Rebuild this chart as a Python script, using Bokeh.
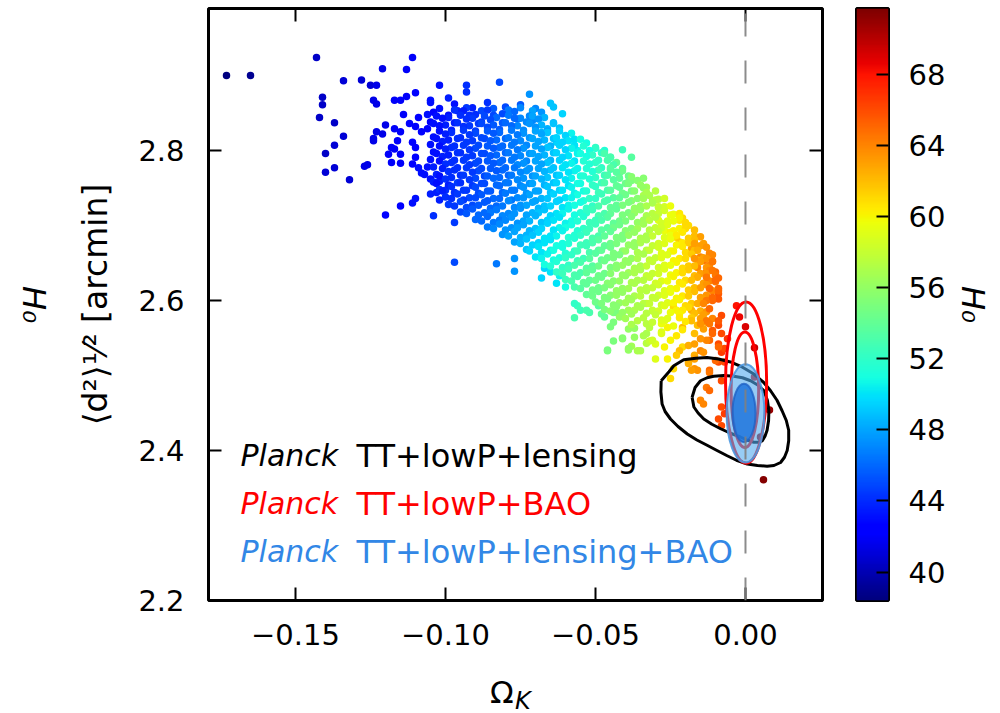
import numpy as np
from bokeh.plotting import figure
from bokeh.models import (ColumnDataSource, LinearColorMapper, Label, LinearAxis,
                          FixedTicker, Range1d, Span, CustomJSTickFormatter, Div)
from bokeh.transform import transform
from bokeh.layouts import row, column
from bokeh.embed import file_html
from bokeh.resources import INLINE

# ---------------- values ----------------
xticks = [-0.15, -0.10, -0.05, 0.00]
yticks = [2.2, 2.4, 2.6, 2.8]
cbar_ticks = [40, 44, 48, 52, 56, 60, 64, 68]
h0_low, h0_high = 38.4, 71.7
x_lo, x_hi = -0.179, 0.02567
y_lo, y_hi = 2.2, 2.98933

y_label = "⟨d²⟩¹⁄² [arcmin]"
h0_label = "H₀"
legend_texts = ["TT+lowP+lensing", "TT+lowP+BAO", "TT+lowP+lensing+BAO"]
legend_colors = ["#000000", "#ff0000", "#3287e6"]

# samples (Omega_K, <d^2>^1/2, H0)
sparse_left = [
    (-0.173, 2.900, 38.5), (-0.165, 2.900, 39.0),
    (-0.143, 2.924, 40.5), (-0.111, 2.924, 42.0), (-0.121, 2.909, 41.5), (-0.113, 2.908, 42.0),
    (-0.134, 2.893, 41.0), (-0.128, 2.894, 41.0), (-0.125, 2.887, 41.0), (-0.123, 2.887, 41.5),
    (-0.102, 2.887, 43.0), (-0.141, 2.871, 40.5), (-0.141, 2.861, 40.5), (-0.142, 2.844, 40.5),
    (-0.137, 2.837, 40.5), (-0.134, 2.819, 41.0), (-0.137, 2.807, 41.0), (-0.140, 2.796, 40.5),
    (-0.140, 2.771, 41.0), (-0.137, 2.777, 41.0), (-0.132, 2.761, 41.0), (-0.127, 2.779, 41.5),
    (-0.126, 2.781, 41.5), (-0.124, 2.867, 41.5), (-0.123, 2.862, 41.5), (-0.117, 2.867, 42.0),
    (-0.115, 2.867, 42.0), (-0.113, 2.872, 42.0), (-0.110, 2.877, 42.5), (-0.120, 2.834, 41.5),
    (-0.123, 2.825, 41.5), (-0.121, 2.822, 41.5), (-0.117, 2.829, 42.0), (-0.115, 2.825, 42.0),
    (-0.114, 2.848, 42.0), (-0.124, 2.813, 41.5), (-0.124, 2.816, 41.5), (-0.118, 2.804, 42.0),
    (-0.117, 2.802, 42.0), (-0.116, 2.813, 42.0), (-0.119, 2.795, 42.0), (-0.118, 2.784, 42.0),
    (-0.115, 2.783, 42.0), (-0.115, 2.795, 42.0), (-0.111, 2.811, 42.5), (-0.110, 2.804, 42.5),
    (-0.112, 2.836, 42.5), (-0.109, 2.844, 42.5), (-0.108, 2.825, 42.5), (-0.110, 2.832, 42.5),
    (-0.106, 2.848, 43.0), (-0.105, 2.864, 43.0), (-0.105, 2.867, 43.0), (-0.099, 2.870, 43.5),
    (-0.111, 2.782, 42.5), (-0.110, 2.791, 42.5), (-0.109, 2.777, 43.0), (-0.108, 2.770, 43.0),
    (-0.106, 2.778, 43.0), (-0.105, 2.762, 43.0), (-0.107, 2.768, 43.0), (-0.102, 2.759, 43.5),
    (-0.103, 2.744, 43.5), (-0.102, 2.734, 43.5), (-0.100, 2.747, 44.0), (-0.105, 2.742, 43.5),
    (-0.115, 2.726, 42.5), (-0.111, 2.730, 43.0), (-0.110, 2.736, 43.0), (-0.120, 2.714, 42.5),
    (-0.104, 2.713, 44.0), (-0.097, 2.704, 44.5),
    (-0.093, 2.887, 44.0), (-0.093, 2.878, 44.0), (-0.084, 2.847, 45.0), (-0.082, 2.891, 45.0),
]

top_edge = [
    (-0.072, 2.875, 47.5), (-0.065, 2.863, 49.0), (-0.064, 2.858, 49.0), (-0.061, 2.849, 49.5),
    (-0.068, 2.824, 48.5), (-0.066, 2.829, 48.5), (-0.063, 2.811, 49.5), (-0.056, 2.800, 50.5),
    (-0.050, 2.803, 51.0), (-0.047, 2.800, 51.5), (-0.045, 2.791, 52.5), (-0.041, 2.801, 52.5),
    (-0.038, 2.791, 53.5), (-0.045, 2.775, 53.0), (-0.042, 2.770, 54.0), (-0.039, 2.758, 55.0),
    (-0.034, 2.763, 55.5), (-0.033, 2.751, 56.5), (-0.038, 2.760, 55.0), (-0.034, 2.740, 57.0),
    (-0.031, 2.733, 57.5), (-0.029, 2.725, 58.5), (-0.029, 2.707, 59.0), (-0.022, 2.707, 60.5),
    (-0.021, 2.710, 61.0), (-0.020, 2.702, 61.0), (-0.027, 2.693, 59.5), (-0.025, 2.691, 60.0),
    (-0.023, 2.684, 61.0), (-0.022, 2.678, 61.5), (-0.017, 2.685, 63.0), (-0.017, 2.676, 63.5),
    (-0.018, 2.669, 63.0), (-0.015, 2.658, 64.0), (-0.016, 2.644, 64.0), (-0.014, 2.653, 64.5),
    (-0.013, 2.638, 64.5), (-0.011, 2.652, 64.5), (-0.010, 2.638, 65.0), (-0.010, 2.627, 65.0),
    (-0.009, 2.609, 65.5), (-0.009, 2.602, 65.5), (-0.096, 2.853, 43.5), (-0.092, 2.847, 44.0),
    (-0.088, 2.838, 44.5), (-0.079, 2.853, 45.5), (-0.079, 2.849, 45.5), (-0.076, 2.842, 46.0),
    (-0.071, 2.840, 47.0),
]

lower_edge = [
    (-0.097, 2.651, 45.0), (-0.083, 2.649, 46.5), (-0.077, 2.639, 47.5), (-0.077, 2.656, 47.5),
    (-0.068, 2.630, 49.5), (-0.067, 2.643, 49.5), (-0.065, 2.638, 50.0), (-0.063, 2.623, 50.0),
    (-0.062, 2.633, 50.5), (-0.060, 2.618, 51.0), (-0.057, 2.577, 53.0), (-0.056, 2.593, 52.5),
    (-0.057, 2.596, 52.0), (-0.055, 2.587, 52.5), (-0.053, 2.587, 53.0), (-0.052, 2.584, 53.0),
    (-0.049, 2.593, 53.5), (-0.048, 2.582, 54.0), (-0.047, 2.578, 54.0), (-0.045, 2.565, 55.0),
    (-0.043, 2.584, 55.0), (-0.044, 2.546, 55.0), (-0.046, 2.534, 55.0), (-0.046, 2.533, 55.0),
    (-0.041, 2.550, 55.5), (-0.041, 2.549, 55.5), (-0.039, 2.562, 56.0), (-0.037, 2.563, 56.0),
    (-0.037, 2.551, 56.0), (-0.039, 2.534, 56.0), (-0.038, 2.539, 56.5), (-0.035, 2.533, 57.0),
    (-0.034, 2.553, 57.0), (-0.033, 2.569, 57.5), (-0.033, 2.543, 57.5), (-0.032, 2.546, 58.0),
    (-0.033, 2.556, 57.0), (-0.032, 2.564, 57.5), (-0.030, 2.542, 59.0), (-0.044, 2.584, 55.0),
    (-0.044, 2.571, 55.0), (-0.039, 2.536, 56.0), (-0.036, 2.533, 57.0), (-0.030, 2.522, 59.0),
    (-0.026, 2.522, 60.0), (-0.021, 2.538, 61.0), (-0.025, 2.547, 60.0), (-0.023, 2.553, 60.5),
    (-0.028, 2.556, 59.0), (-0.031, 2.547, 58.5), (-0.027, 2.573, 59.0), (-0.031, 2.587, 58.5),
    (-0.033, 2.596, 58.0), (-0.024, 2.591, 61.0), (-0.018, 2.587, 62.5), (-0.026, 2.564, 60.0),
    (-0.028, 2.569, 59.5), (-0.021, 2.564, 62.0), (-0.025, 2.496, 61.0), (-0.024, 2.509, 61.0),
    (-0.019, 2.518, 62.0), (-0.017, 2.527, 62.5), (-0.027, 2.538, 60.0), (-0.022, 2.533, 62.0),
    (-0.023, 2.527, 61.5), (-0.019, 2.540, 62.5),
]

row_286 = [(-0.097, 2.862, 43.0), (-0.091, 2.857, 43.5), (-0.086, 2.864, 44.0), (-0.080, 2.858, 45.0),
           (-0.075, 2.861, 45.5), (-0.070, 2.856, 47.0)]
mid_2855 = [(-0.102, 2.856, 43.0), (-0.097, 2.854, 44.0), (-0.093, 2.857, 44.5), (-0.088, 2.853, 45.0),
            (-0.084, 2.856, 45.5), (-0.079, 2.854, 46.5), (-0.075, 2.857, 47.0), (-0.071, 2.853, 48.0)]
row_285 = [(-0.104, 2.851, 42.5), (-0.099, 2.847, 43.0), (-0.094, 2.853, 43.5), (-0.090, 2.848, 44.0),
           (-0.086, 2.854, 44.5), (-0.081, 2.849, 45.0), (-0.077, 2.852, 46.0), (-0.072, 2.846, 47.0),
           (-0.068, 2.851, 47.5)]
mid_2845 = [(-0.103, 2.846, 43.0), (-0.099, 2.844, 43.5), (-0.095, 2.847, 44.0), (-0.091, 2.843, 44.5),
            (-0.087, 2.846, 45.0), (-0.083, 2.844, 46.0), (-0.079, 2.847, 46.5), (-0.075, 2.843, 47.0),
            (-0.071, 2.846, 48.0), (-0.067, 2.844, 48.5)]
row_284 = [(-0.105, 2.838, 42.5), (-0.101, 2.843, 43.0), (-0.097, 2.837, 43.5), (-0.093, 2.842, 44.0),
           (-0.089, 2.836, 44.5), (-0.085, 2.841, 45.0), (-0.081, 2.837, 45.5), (-0.077, 2.843, 46.0),
           (-0.073, 2.838, 47.0), (-0.069, 2.842, 47.5), (-0.064, 2.837, 48.5)]
mid_2835 = [(-0.104, 2.836, 43.0), (-0.100, 2.834, 43.5), (-0.096, 2.837, 44.0), (-0.092, 2.833, 44.5),
            (-0.088, 2.836, 45.0), (-0.084, 2.834, 45.5), (-0.080, 2.837, 46.0), (-0.076, 2.833, 47.0),
            (-0.072, 2.836, 47.5), (-0.068, 2.834, 48.5), (-0.064, 2.836, 49.0)]
row_283 = [(-0.106, 2.829, 42.5), (-0.102, 2.833, 43.0), (-0.098, 2.827, 43.5), (-0.094, 2.832, 44.0),
           (-0.090, 2.826, 44.5), (-0.086, 2.831, 45.0), (-0.082, 2.828, 45.5), (-0.078, 2.833, 46.0),
           (-0.074, 2.827, 47.0), (-0.070, 2.831, 47.5), (-0.066, 2.826, 48.0), (-0.062, 2.830, 49.0)]
mid_2825 = [(-0.102, 2.826, 43.0), (-0.098, 2.824, 44.0), (-0.094, 2.827, 44.5), (-0.090, 2.823, 45.0),
            (-0.086, 2.826, 45.5), (-0.082, 2.824, 46.0), (-0.078, 2.827, 46.5), (-0.074, 2.823, 47.5),
            (-0.070, 2.826, 48.0), (-0.066, 2.824, 49.0), (-0.062, 2.826, 49.5), (-0.058, 2.823, 50.5)]
row_282 = [(-0.104, 2.818, 43.0), (-0.100, 2.822, 43.5), (-0.096, 2.816, 44.0), (-0.092, 2.821, 44.5),
           (-0.088, 2.817, 45.0), (-0.084, 2.823, 45.5), (-0.080, 2.816, 46.0), (-0.076, 2.821, 46.5),
           (-0.072, 2.817, 47.5), (-0.068, 2.822, 48.0), (-0.064, 2.816, 49.0), (-0.060, 2.820, 49.5),
           (-0.057, 2.815, 50.0)]
mid_2815 = [(-0.103, 2.816, 43.0), (-0.099, 2.814, 43.5), (-0.095, 2.817, 44.0), (-0.091, 2.813, 44.5),
            (-0.087, 2.816, 45.0), (-0.083, 2.814, 46.0), (-0.079, 2.817, 46.5), (-0.075, 2.813, 47.0),
            (-0.071, 2.816, 48.0), (-0.067, 2.814, 48.5), (-0.063, 2.817, 49.5), (-0.059, 2.813, 50.0),
            (-0.055, 2.815, 51.0)]
row_281 = [(-0.105, 2.808, 43.0), (-0.101, 2.812, 43.5), (-0.097, 2.806, 44.0), (-0.093, 2.811, 44.5),
           (-0.089, 2.807, 45.0), (-0.085, 2.813, 45.5), (-0.081, 2.806, 46.0), (-0.077, 2.811, 46.5),
           (-0.073, 2.807, 47.0), (-0.069, 2.812, 48.0), (-0.065, 2.806, 48.5), (-0.061, 2.811, 49.5),
           (-0.057, 2.807, 50.0), (-0.053, 2.810, 51.0)]
mid_2805 = [(-0.102, 2.806, 43.0), (-0.098, 2.804, 44.0), (-0.094, 2.807, 44.5), (-0.090, 2.803, 45.0),
            (-0.086, 2.806, 45.5), (-0.082, 2.804, 46.0), (-0.078, 2.807, 46.5), (-0.074, 2.803, 47.5),
            (-0.070, 2.806, 48.0), (-0.066, 2.804, 49.0), (-0.062, 2.807, 49.5), (-0.058, 2.803, 50.5),
            (-0.054, 2.806, 51.5), (-0.050, 2.804, 52.0)]
row_280 = [(-0.104, 2.798, 43.0), (-0.100, 2.802, 43.5), (-0.096, 2.797, 44.0), (-0.092, 2.801, 44.5),
           (-0.088, 2.796, 45.0), (-0.084, 2.803, 45.5), (-0.080, 2.797, 46.0), (-0.076, 2.801, 46.5),
           (-0.072, 2.796, 47.5), (-0.068, 2.802, 48.0), (-0.064, 2.797, 49.0), (-0.060, 2.801, 49.5),
           (-0.056, 2.796, 50.5), (-0.052, 2.800, 51.0), (-0.048, 2.797, 52.0)]
mid_2795 = [(-0.103, 2.796, 43.0), (-0.099, 2.794, 43.5), (-0.095, 2.797, 44.0), (-0.091, 2.793, 44.5),
            (-0.087, 2.796, 45.0), (-0.083, 2.794, 46.0), (-0.079, 2.797, 46.5), (-0.075, 2.793, 47.0),
            (-0.071, 2.796, 48.0), (-0.067, 2.794, 48.5), (-0.063, 2.797, 49.5), (-0.059, 2.793, 50.0),
            (-0.055, 2.796, 51.0), (-0.051, 2.794, 52.0), (-0.047, 2.796, 53.0)]
row_279 = [(-0.105, 2.788, 43.0), (-0.101, 2.792, 43.5), (-0.097, 2.787, 44.0), (-0.093, 2.791, 44.5),
           (-0.089, 2.786, 45.0), (-0.085, 2.793, 45.5), (-0.081, 2.787, 46.0), (-0.077, 2.791, 46.5),
           (-0.073, 2.786, 47.0), (-0.069, 2.792, 48.0), (-0.065, 2.787, 48.5), (-0.061, 2.791, 49.5),
           (-0.057, 2.786, 50.0), (-0.053, 2.792, 51.0), (-0.049, 2.787, 52.0), (-0.045, 2.791, 53.0)]
mid_2785 = [(-0.102, 2.786, 43.0), (-0.098, 2.784, 44.0), (-0.094, 2.787, 44.5), (-0.090, 2.783, 45.0),
            (-0.086, 2.786, 45.5), (-0.082, 2.784, 46.0), (-0.078, 2.787, 46.5), (-0.074, 2.783, 47.5),
            (-0.070, 2.786, 48.0), (-0.066, 2.784, 49.0), (-0.062, 2.787, 49.5), (-0.058, 2.783, 50.5),
            (-0.054, 2.786, 51.5), (-0.050, 2.784, 52.0), (-0.046, 2.787, 53.0), (-0.043, 2.784, 54.0)]
row_278 = [(-0.104, 2.778, 43.5), (-0.100, 2.782, 44.0), (-0.096, 2.777, 44.0), (-0.092, 2.781, 44.5),
           (-0.088, 2.776, 45.0), (-0.084, 2.783, 45.5), (-0.080, 2.777, 46.0), (-0.076, 2.781, 47.0),
           (-0.072, 2.776, 47.5), (-0.068, 2.782, 48.0), (-0.064, 2.777, 49.0), (-0.060, 2.781, 50.0),
           (-0.056, 2.776, 50.5), (-0.052, 2.782, 51.5), (-0.048, 2.777, 52.0), (-0.044, 2.781, 53.0),
           (-0.041, 2.776, 54.0)]
mid_2775 = [(-0.101, 2.776, 43.5), (-0.097, 2.774, 44.0), (-0.093, 2.777, 44.5), (-0.089, 2.773, 45.0),
            (-0.085, 2.776, 45.5), (-0.081, 2.774, 46.0), (-0.077, 2.777, 46.5), (-0.073, 2.773, 47.5),
            (-0.069, 2.776, 48.0), (-0.065, 2.774, 49.0), (-0.061, 2.777, 50.0), (-0.057, 2.773, 50.5),
            (-0.053, 2.776, 51.5), (-0.049, 2.774, 52.5), (-0.045, 2.777, 53.5), (-0.041, 2.773, 54.5)]
row_277 = [(-0.103, 2.768, 43.5), (-0.099, 2.772, 44.0), (-0.095, 2.767, 44.0), (-0.091, 2.771, 44.5),
           (-0.087, 2.766, 45.0), (-0.083, 2.773, 45.5), (-0.079, 2.767, 46.0), (-0.075, 2.771, 47.0),
           (-0.071, 2.766, 47.5), (-0.067, 2.772, 48.5), (-0.063, 2.767, 49.0), (-0.059, 2.771, 50.0),
           (-0.055, 2.766, 51.0), (-0.051, 2.772, 51.5), (-0.047, 2.767, 52.5), (-0.043, 2.771, 53.5),
           (-0.039, 2.766, 54.5)]
mid_2765 = [(-0.102, 2.766, 43.0), (-0.098, 2.764, 44.0), (-0.094, 2.767, 44.5), (-0.090, 2.763, 45.0),
            (-0.086, 2.766, 45.5), (-0.082, 2.764, 46.0), (-0.078, 2.767, 46.5), (-0.074, 2.763, 47.5),
            (-0.070, 2.766, 48.0), (-0.066, 2.764, 49.0), (-0.062, 2.767, 49.5), (-0.058, 2.763, 50.5),
            (-0.054, 2.766, 51.5), (-0.050, 2.764, 52.0), (-0.046, 2.767, 53.0), (-0.042, 2.763, 54.0),
            (-0.038, 2.765, 55.5)]
row_276 = [(-0.104, 2.758, 43.5), (-0.100, 2.762, 44.0), (-0.096, 2.757, 44.5), (-0.092, 2.761, 44.5),
           (-0.088, 2.756, 45.0), (-0.084, 2.763, 46.0), (-0.080, 2.757, 46.5), (-0.076, 2.761, 47.0),
           (-0.072, 2.756, 47.5), (-0.068, 2.762, 48.5), (-0.064, 2.757, 49.0), (-0.060, 2.761, 50.0),
           (-0.056, 2.756, 51.0), (-0.052, 2.762, 51.5), (-0.048, 2.757, 52.5), (-0.044, 2.761, 53.5),
           (-0.040, 2.756, 54.5), (-0.036, 2.760, 55.5)]
mid_2755 = [(-0.103, 2.756, 43.0), (-0.099, 2.754, 43.5), (-0.095, 2.757, 44.0), (-0.091, 2.753, 44.5),
            (-0.087, 2.756, 45.0), (-0.083, 2.754, 46.0), (-0.079, 2.757, 46.5), (-0.075, 2.753, 47.0),
            (-0.071, 2.756, 48.0), (-0.067, 2.754, 48.5), (-0.063, 2.757, 49.5), (-0.059, 2.753, 50.0),
            (-0.055, 2.756, 51.0), (-0.051, 2.754, 52.0), (-0.047, 2.757, 53.0), (-0.043, 2.753, 54.0),
            (-0.039, 2.756, 55.0), (-0.035, 2.754, 56.0)]
row_275 = [(-0.102, 2.748, 44.0), (-0.098, 2.752, 44.0), (-0.094, 2.747, 44.5), (-0.090, 2.751, 45.0),
           (-0.086, 2.746, 45.5), (-0.082, 2.753, 46.0), (-0.078, 2.747, 46.5), (-0.074, 2.751, 47.5),
           (-0.070, 2.746, 48.0), (-0.066, 2.752, 49.0), (-0.062, 2.747, 49.5), (-0.058, 2.751, 50.5),
           (-0.054, 2.746, 51.0), (-0.050, 2.752, 52.0), (-0.046, 2.747, 53.0), (-0.042, 2.751, 54.0),
           (-0.038, 2.746, 55.0), (-0.034, 2.750, 56.0)]
mid_2745 = [(-0.101, 2.746, 43.5), (-0.097, 2.744, 44.0), (-0.093, 2.747, 44.5), (-0.089, 2.743, 45.0),
            (-0.085, 2.746, 45.5), (-0.081, 2.744, 46.0), (-0.077, 2.747, 46.5), (-0.073, 2.743, 47.5),
            (-0.069, 2.746, 48.0), (-0.065, 2.744, 49.0), (-0.061, 2.747, 50.0), (-0.057, 2.743, 50.5),
            (-0.053, 2.746, 51.5), (-0.049, 2.744, 52.5), (-0.045, 2.747, 53.5), (-0.041, 2.743, 54.5),
            (-0.037, 2.746, 55.5), (-0.033, 2.744, 57.0), (-0.030, 2.746, 57.5)]
row_274 = [(-0.100, 2.738, 44.0), (-0.096, 2.742, 44.5), (-0.092, 2.737, 45.0), (-0.088, 2.741, 45.5),
           (-0.084, 2.736, 46.0), (-0.080, 2.743, 46.5), (-0.076, 2.737, 47.0), (-0.072, 2.741, 48.0),
           (-0.068, 2.736, 48.5), (-0.064, 2.742, 49.5), (-0.060, 2.737, 50.0), (-0.056, 2.741, 51.0),
           (-0.052, 2.736, 52.0), (-0.048, 2.742, 52.5), (-0.044, 2.737, 53.5), (-0.040, 2.741, 54.5),
           (-0.036, 2.736, 55.5), (-0.032, 2.740, 57.0), (-0.029, 2.735, 57.5)]
mid_2735 = [(-0.098, 2.736, 44.0), (-0.094, 2.734, 44.5), (-0.090, 2.737, 45.0), (-0.086, 2.733, 45.5),
            (-0.082, 2.736, 46.0), (-0.078, 2.734, 46.5), (-0.074, 2.737, 47.5), (-0.070, 2.733, 48.0),
            (-0.066, 2.736, 49.0), (-0.062, 2.734, 49.5), (-0.058, 2.737, 50.5), (-0.054, 2.733, 51.5),
            (-0.050, 2.736, 52.0), (-0.046, 2.734, 53.0), (-0.042, 2.737, 54.0), (-0.038, 2.733, 55.5),
            (-0.034, 2.736, 56.5), (-0.030, 2.734, 57.5), (-0.027, 2.736, 58.5)]
row_273 = [(-0.099, 2.728, 44.5), (-0.095, 2.732, 45.0), (-0.091, 2.727, 45.0), (-0.087, 2.731, 45.5),
           (-0.083, 2.726, 46.0), (-0.079, 2.733, 47.0), (-0.075, 2.727, 47.5), (-0.071, 2.731, 48.0),
           (-0.067, 2.726, 49.0), (-0.063, 2.732, 49.5), (-0.059, 2.727, 50.5), (-0.055, 2.731, 51.0),
           (-0.051, 2.726, 52.0), (-0.047, 2.732, 53.0), (-0.043, 2.727, 54.0), (-0.039, 2.731, 55.0),
           (-0.035, 2.726, 56.0), (-0.031, 2.730, 57.0), (-0.027, 2.725, 58.5)]
mid_2725 = [(-0.097, 2.726, 44.5), (-0.093, 2.724, 45.0), (-0.089, 2.727, 45.5), (-0.085, 2.723, 46.0),
            (-0.081, 2.726, 46.5), (-0.077, 2.724, 47.0), (-0.073, 2.727, 48.0), (-0.069, 2.723, 48.5),
            (-0.065, 2.726, 49.5), (-0.061, 2.724, 50.0), (-0.057, 2.727, 51.0), (-0.053, 2.723, 52.0),
            (-0.049, 2.726, 53.0), (-0.045, 2.724, 54.0), (-0.041, 2.727, 55.0), (-0.037, 2.723, 56.0),
            (-0.033, 2.726, 57.0), (-0.029, 2.724, 58.0), (-0.025, 2.726, 59.5)]
row_272 = [(-0.095, 2.718, 45.0), (-0.091, 2.722, 45.5), (-0.087, 2.717, 46.0), (-0.083, 2.721, 46.5),
           (-0.079, 2.716, 47.0), (-0.075, 2.723, 47.5), (-0.071, 2.717, 48.5), (-0.067, 2.721, 49.0),
           (-0.063, 2.716, 50.0), (-0.059, 2.722, 50.5), (-0.055, 2.717, 51.5), (-0.051, 2.721, 52.5),
           (-0.047, 2.716, 53.0), (-0.043, 2.722, 54.0), (-0.039, 2.717, 55.0), (-0.035, 2.721, 56.0),
           (-0.031, 2.716, 57.5), (-0.027, 2.720, 58.5), (-0.024, 2.715, 59.5)]
mid_2715 = [(-0.093, 2.716, 45.5), (-0.089, 2.714, 46.0), (-0.085, 2.717, 46.5), (-0.081, 2.713, 47.0),
            (-0.077, 2.716, 47.5), (-0.073, 2.714, 48.0), (-0.069, 2.717, 49.0), (-0.065, 2.713, 49.5),
            (-0.061, 2.716, 50.5), (-0.057, 2.714, 51.0), (-0.053, 2.717, 52.0), (-0.049, 2.713, 53.0),
            (-0.045, 2.716, 54.0), (-0.041, 2.714, 55.0), (-0.037, 2.717, 56.0), (-0.033, 2.713, 57.0),
            (-0.029, 2.716, 58.0), (-0.025, 2.714, 59.5), (-0.022, 2.716, 60.5)]
row_271 = [(-0.090, 2.708, 46.0), (-0.086, 2.712, 46.0), (-0.082, 2.707, 46.5), (-0.078, 2.711, 47.5),
           (-0.074, 2.706, 48.0), (-0.070, 2.713, 48.5), (-0.066, 2.707, 49.5), (-0.062, 2.711, 50.0),
           (-0.058, 2.706, 51.0), (-0.054, 2.712, 51.5), (-0.050, 2.707, 52.5), (-0.046, 2.711, 53.5),
           (-0.042, 2.706, 54.5), (-0.038, 2.712, 55.5), (-0.034, 2.707, 56.5), (-0.030, 2.711, 57.5),
           (-0.026, 2.706, 59.0), (-0.022, 2.710, 60.0)]
mid_2705 = [(-0.088, 2.706, 46.0), (-0.084, 2.704, 46.5), (-0.080, 2.707, 47.0), (-0.076, 2.703, 47.5),
            (-0.072, 2.706, 48.5), (-0.068, 2.704, 49.0), (-0.064, 2.707, 50.0), (-0.060, 2.703, 50.5),
            (-0.056, 2.706, 51.5), (-0.052, 2.704, 52.5), (-0.048, 2.707, 53.0), (-0.044, 2.703, 54.0),
            (-0.040, 2.706, 55.0), (-0.036, 2.704, 56.0), (-0.032, 2.707, 57.5), (-0.028, 2.703, 58.5),
            (-0.024, 2.706, 59.5), (-0.020, 2.704, 61.0)]
row_270 = [(-0.086, 2.698, 46.5), (-0.082, 2.702, 47.0), (-0.078, 2.697, 47.5), (-0.074, 2.701, 48.0),
           (-0.070, 2.696, 49.0), (-0.066, 2.703, 49.5), (-0.062, 2.697, 50.5), (-0.058, 2.701, 51.0),
           (-0.054, 2.696, 52.0), (-0.050, 2.702, 52.5), (-0.046, 2.697, 53.5), (-0.042, 2.701, 54.5),
           (-0.038, 2.696, 55.5), (-0.034, 2.702, 56.5), (-0.030, 2.697, 58.0), (-0.026, 2.701, 59.0),
           (-0.022, 2.696, 60.0), (-0.019, 2.700, 61.0)]
mid_2695 = [(-0.084, 2.696, 47.0), (-0.080, 2.694, 47.5), (-0.076, 2.697, 48.0), (-0.072, 2.693, 48.5),
            (-0.068, 2.696, 49.5), (-0.064, 2.694, 50.0), (-0.060, 2.697, 51.0), (-0.056, 2.693, 51.5),
            (-0.052, 2.696, 52.5), (-0.048, 2.694, 53.5), (-0.044, 2.697, 54.5), (-0.040, 2.693, 55.5),
            (-0.036, 2.696, 56.5), (-0.032, 2.694, 57.5), (-0.028, 2.697, 58.5), (-0.024, 2.693, 60.0),
            (-0.020, 2.696, 61.0), (-0.017, 2.694, 62.0)]
row_269 = [(-0.081, 2.688, 47.5), (-0.077, 2.692, 48.0), (-0.073, 2.687, 48.5), (-0.069, 2.691, 49.5),
           (-0.065, 2.686, 50.0), (-0.061, 2.693, 50.5), (-0.057, 2.687, 51.5), (-0.053, 2.691, 52.5),
           (-0.049, 2.686, 53.0), (-0.045, 2.692, 54.0), (-0.041, 2.687, 55.0), (-0.037, 2.691, 56.0),
           (-0.033, 2.686, 57.0), (-0.029, 2.692, 58.0), (-0.025, 2.687, 59.5), (-0.021, 2.691, 60.5),
           (-0.017, 2.686, 62.0)]
mid_2685 = [(-0.079, 2.686, 48.0), (-0.075, 2.684, 48.5), (-0.071, 2.687, 49.0), (-0.067, 2.683, 50.0),
            (-0.063, 2.686, 50.5), (-0.059, 2.684, 51.5), (-0.055, 2.687, 52.0), (-0.051, 2.683, 53.0),
            (-0.047, 2.686, 54.0), (-0.043, 2.684, 55.0), (-0.039, 2.687, 56.0), (-0.035, 2.683, 57.0),
            (-0.031, 2.686, 58.0), (-0.027, 2.684, 59.0), (-0.023, 2.687, 60.5), (-0.019, 2.683, 61.5),
            (-0.015, 2.685, 63.0)]
row_268 = [(-0.077, 2.678, 48.0), (-0.073, 2.682, 49.0), (-0.069, 2.677, 49.5), (-0.065, 2.681, 50.0),
           (-0.061, 2.676, 51.0), (-0.057, 2.683, 51.5), (-0.053, 2.677, 52.5), (-0.049, 2.681, 53.5),
           (-0.045, 2.676, 54.5), (-0.041, 2.682, 55.0), (-0.037, 2.677, 56.0), (-0.033, 2.681, 57.0),
           (-0.029, 2.676, 58.5), (-0.025, 2.682, 59.5), (-0.021, 2.677, 60.5), (-0.017, 2.681, 62.0),
           (-0.014, 2.676, 63.0)]
mid_2675 = [(-0.075, 2.676, 48.5), (-0.071, 2.674, 49.5), (-0.067, 2.677, 50.0), (-0.063, 2.673, 51.0),
            (-0.059, 2.676, 51.5), (-0.055, 2.674, 52.5), (-0.051, 2.677, 53.0), (-0.047, 2.673, 54.0),
            (-0.043, 2.676, 55.0), (-0.039, 2.674, 56.0), (-0.035, 2.677, 57.0), (-0.031, 2.673, 58.0),
            (-0.027, 2.676, 59.0), (-0.023, 2.674, 60.0), (-0.019, 2.677, 61.5), (-0.015, 2.673, 63.0)]
row_267 = [(-0.073, 2.668, 49.0), (-0.069, 2.672, 50.0), (-0.065, 2.667, 50.5), (-0.061, 2.671, 51.0),
           (-0.057, 2.666, 52.0), (-0.053, 2.673, 52.5), (-0.049, 2.667, 53.5), (-0.045, 2.671, 54.5),
           (-0.041, 2.666, 55.5), (-0.037, 2.672, 56.0), (-0.033, 2.667, 57.5), (-0.029, 2.671, 58.5),
           (-0.025, 2.666, 59.5), (-0.021, 2.672, 60.5), (-0.017, 2.667, 62.0), (-0.013, 2.671, 63.5)]
mid_2665 = [(-0.072, 2.666, 49.5), (-0.068, 2.664, 50.0), (-0.064, 2.667, 51.0), (-0.060, 2.663, 51.5),
            (-0.056, 2.666, 52.5), (-0.052, 2.664, 53.0), (-0.048, 2.667, 54.0), (-0.044, 2.663, 55.0),
            (-0.040, 2.666, 56.0), (-0.036, 2.664, 57.0), (-0.032, 2.667, 58.0), (-0.028, 2.663, 59.0),
            (-0.024, 2.666, 60.0), (-0.020, 2.664, 61.0), (-0.016, 2.667, 62.5), (-0.012, 2.663, 64.0)]
row_266 = [(-0.070, 2.658, 50.0), (-0.066, 2.662, 50.5), (-0.062, 2.657, 51.0), (-0.058, 2.661, 52.0),
           (-0.054, 2.656, 52.5), (-0.050, 2.663, 53.5), (-0.046, 2.657, 54.5), (-0.042, 2.661, 55.0),
           (-0.038, 2.656, 56.0), (-0.034, 2.662, 57.0), (-0.030, 2.657, 58.0), (-0.026, 2.661, 59.0),
           (-0.022, 2.656, 60.5), (-0.018, 2.662, 61.5), (-0.014, 2.657, 63.0), (-0.011, 2.661, 64.0)]
mid_2655 = [(-0.068, 2.656, 50.5), (-0.064, 2.654, 51.0), (-0.060, 2.657, 52.0), (-0.056, 2.653, 52.5),
            (-0.052, 2.656, 53.5), (-0.048, 2.654, 54.0), (-0.044, 2.657, 55.0), (-0.040, 2.653, 56.0),
            (-0.036, 2.656, 57.0), (-0.032, 2.654, 58.0), (-0.028, 2.657, 59.0), (-0.024, 2.653, 60.0),
            (-0.020, 2.656, 61.0), (-0.016, 2.654, 62.5), (-0.013, 2.656, 63.5)]
row_265 = [(-0.067, 2.648, 51.0), (-0.063, 2.652, 51.5), (-0.059, 2.647, 52.0), (-0.055, 2.651, 53.0),
           (-0.051, 2.646, 53.5), (-0.047, 2.653, 54.5), (-0.043, 2.647, 55.5), (-0.039, 2.651, 56.0),
           (-0.035, 2.646, 57.0), (-0.031, 2.652, 58.0), (-0.027, 2.647, 59.0), (-0.023, 2.651, 60.0),
           (-0.019, 2.646, 61.5), (-0.015, 2.652, 63.0), (-0.012, 2.647, 64.0)]
mid_2645 = [(-0.065, 2.646, 51.5), (-0.061, 2.644, 52.0), (-0.057, 2.647, 53.0), (-0.053, 2.643, 53.5),
            (-0.049, 2.646, 54.5), (-0.045, 2.644, 55.0), (-0.041, 2.647, 56.0), (-0.037, 2.643, 57.0),
            (-0.033, 2.646, 58.0), (-0.029, 2.644, 58.5), (-0.025, 2.647, 59.5), (-0.021, 2.643, 61.0),
            (-0.017, 2.646, 62.0), (-0.013, 2.644, 63.5)]
row_264 = [(-0.063, 2.638, 52.0), (-0.059, 2.642, 52.5), (-0.055, 2.637, 53.0), (-0.051, 2.641, 54.0),
           (-0.047, 2.636, 54.5), (-0.043, 2.643, 55.5), (-0.039, 2.637, 56.5), (-0.035, 2.641, 57.0),
           (-0.031, 2.636, 58.0), (-0.027, 2.642, 59.0), (-0.023, 2.637, 60.0), (-0.019, 2.641, 61.5),
           (-0.015, 2.636, 63.0), (-0.012, 2.640, 64.0)]
mid_2635 = [(-0.061, 2.636, 52.5), (-0.057, 2.634, 53.0), (-0.053, 2.637, 54.0), (-0.049, 2.633, 54.5),
            (-0.045, 2.636, 55.5), (-0.041, 2.634, 56.0), (-0.037, 2.637, 57.0), (-0.033, 2.633, 58.0),
            (-0.029, 2.636, 58.5), (-0.025, 2.634, 59.5), (-0.021, 2.637, 61.0), (-0.017, 2.633, 62.0),
            (-0.013, 2.636, 63.5), (-0.010, 2.634, 64.5)]
row_263 = [(-0.060, 2.628, 52.5), (-0.056, 2.632, 53.0), (-0.052, 2.627, 54.0), (-0.048, 2.631, 54.5),
           (-0.044, 2.626, 55.5), (-0.040, 2.633, 56.0), (-0.036, 2.627, 57.0), (-0.032, 2.631, 58.0),
           (-0.028, 2.626, 59.0), (-0.024, 2.632, 60.0), (-0.020, 2.627, 61.0), (-0.016, 2.631, 62.5),
           (-0.012, 2.626, 64.0), (-0.009, 2.630, 65.0)]
mid_2625 = [(-0.058, 2.626, 53.0), (-0.054, 2.624, 54.0), (-0.050, 2.627, 54.5), (-0.046, 2.623, 55.5),
            (-0.042, 2.626, 56.0), (-0.038, 2.624, 57.0), (-0.034, 2.627, 57.5), (-0.030, 2.623, 58.5),
            (-0.026, 2.626, 59.5), (-0.022, 2.624, 60.5), (-0.018, 2.627, 62.0), (-0.014, 2.623, 63.0),
            (-0.010, 2.625, 64.5)]
row_262 = [(-0.057, 2.618, 53.0), (-0.053, 2.622, 54.0), (-0.049, 2.617, 54.5), (-0.045, 2.621, 55.5),
           (-0.041, 2.616, 56.0), (-0.037, 2.623, 57.0), (-0.033, 2.617, 57.5), (-0.029, 2.621, 58.5),
           (-0.025, 2.616, 59.5), (-0.021, 2.622, 60.5), (-0.017, 2.617, 62.0), (-0.013, 2.621, 63.5),
           (-0.009, 2.616, 65.0)]
mid_2615 = [(-0.055, 2.616, 53.5), (-0.051, 2.614, 54.5), (-0.047, 2.617, 55.0), (-0.043, 2.613, 56.0),
            (-0.039, 2.616, 56.5), (-0.035, 2.614, 57.5), (-0.031, 2.617, 58.0), (-0.027, 2.613, 59.0),
            (-0.023, 2.616, 60.0), (-0.019, 2.614, 61.5), (-0.015, 2.617, 63.0), (-0.011, 2.613, 64.0)]
row_261 = [(-0.053, 2.608, 54.0), (-0.049, 2.612, 54.5), (-0.045, 2.607, 55.5), (-0.041, 2.611, 56.0),
           (-0.037, 2.606, 57.0), (-0.033, 2.613, 57.5), (-0.029, 2.607, 58.5), (-0.025, 2.611, 59.5),
           (-0.021, 2.606, 60.5), (-0.017, 2.612, 62.0), (-0.013, 2.607, 63.5)]
mid_2605 = [(-0.051, 2.606, 54.5), (-0.047, 2.604, 55.0), (-0.043, 2.607, 56.0), (-0.039, 2.603, 56.5),
            (-0.035, 2.606, 57.5), (-0.031, 2.604, 58.0), (-0.027, 2.607, 59.0), (-0.023, 2.603, 60.0),
            (-0.019, 2.606, 61.5), (-0.015, 2.604, 63.0)]
row_260 = [(-0.050, 2.598, 54.5), (-0.046, 2.602, 55.0), (-0.042, 2.597, 56.0), (-0.038, 2.601, 56.5),
           (-0.034, 2.596, 57.5), (-0.030, 2.603, 58.0), (-0.026, 2.597, 59.0), (-0.022, 2.601, 60.0),
           (-0.018, 2.596, 61.5), (-0.014, 2.602, 63.0)]
mid_2595 = [(-0.048, 2.596, 55.0), (-0.044, 2.594, 55.5), (-0.040, 2.597, 56.5), (-0.036, 2.593, 57.0),
            (-0.032, 2.596, 58.0), (-0.028, 2.594, 58.5), (-0.024, 2.597, 60.0), (-0.020, 2.593, 61.0),
            (-0.016, 2.596, 62.5)]
row_259 = [(-0.047, 2.588, 55.0), (-0.043, 2.592, 55.5), (-0.039, 2.587, 56.5), (-0.035, 2.591, 57.0),
           (-0.031, 2.586, 58.0), (-0.027, 2.593, 59.0), (-0.023, 2.587, 60.0), (-0.019, 2.591, 61.0),
           (-0.015, 2.586, 62.5)]
mid_2585 = [(-0.045, 2.586, 55.5), (-0.041, 2.584, 56.0), (-0.037, 2.587, 57.0), (-0.033, 2.583, 57.5),
            (-0.029, 2.586, 58.5), (-0.025, 2.584, 59.5), (-0.021, 2.587, 60.5), (-0.017, 2.583, 62.0),
            (-0.013, 2.585, 63.5)]
row_258 = [(-0.042, 2.578, 56.0), (-0.038, 2.582, 56.5), (-0.034, 2.577, 57.5), (-0.030, 2.581, 58.0),
           (-0.026, 2.576, 59.0), (-0.022, 2.582, 60.0), (-0.018, 2.577, 61.5), (-0.014, 2.581, 63.0),
           (-0.011, 2.576, 64.0)]
mid_2575 = [(-0.040, 2.576, 56.5), (-0.036, 2.573, 57.5), (-0.028, 2.574, 59.0), (-0.022, 2.577, 60.5),
            (-0.018, 2.573, 62.0), (-0.015, 2.576, 63.0)]
row_257 = [(-0.038, 2.568, 57.0), (-0.031, 2.571, 58.0), (-0.024, 2.566, 59.5), (-0.020, 2.572, 60.5),
           (-0.016, 2.567, 62.0), (-0.013, 2.571, 63.0)]
row_256 = [(-0.028, 2.558, 59.0), (-0.021, 2.561, 60.5), (-0.017, 2.556, 62.0), (-0.014, 2.562, 63.0)]

right_edge = [
    (-0.017, 2.676, 63.0), (-0.011, 2.652, 64.5), (-0.011, 2.640, 64.5), (-0.010, 2.627, 65.0),
    (-0.009, 2.613, 65.0), (-0.011, 2.600, 65.0), (-0.008, 2.580, 66.0), (-0.009, 2.567, 66.0),
    (-0.017, 2.656, 63.5), (-0.013, 2.631, 64.5), (-0.012, 2.616, 65.0), (-0.013, 2.600, 64.5),
    (-0.012, 2.589, 65.0), (-0.013, 2.573, 64.5), (-0.011, 2.560, 65.5), (-0.012, 2.547, 65.0),
    (-0.009, 2.542, 66.0), (-0.008, 2.531, 66.5), (-0.015, 2.533, 64.0), (-0.017, 2.522, 63.0),
    (-0.019, 2.516, 62.5), (-0.017, 2.509, 63.5), (-0.012, 2.507, 65.0), (-0.009, 2.518, 66.0),
    (-0.011, 2.604, 65.0), (-0.014, 2.596, 64.0), (-0.015, 2.569, 63.5), (-0.012, 2.569, 64.5),
    (-0.009, 2.573, 65.5), (-0.013, 2.547, 64.0), (-0.015, 2.549, 63.5), (-0.017, 2.542, 63.0),
    (-0.011, 2.556, 65.0), (-0.008, 2.556, 66.0), (-0.006, 2.549, 67.0), (-0.007, 2.536, 66.0),
    (-0.009, 2.538, 65.0), (-0.014, 2.531, 63.5), (-0.007, 2.518, 66.0), (-0.010, 2.520, 65.0),
    (-0.012, 2.504, 64.5), (-0.016, 2.507, 63.5), (-0.018, 2.507, 63.0), (-0.013, 2.484, 64.5),
    (-0.008, 2.493, 66.0), (-0.012, 2.480, 65.0), (-0.015, 2.467, 64.0), (-0.014, 2.462, 64.0),
    (-0.008, 2.458, 66.0), (-0.009, 2.442, 66.0), (-0.007, 2.449, 66.5), (-0.008, 2.433, 66.0),
    (-0.002, 2.578, 68.5), (0.000, 2.565, 69.0), (0.003, 2.537, 69.5), (0.003, 2.498, 69.5),
    (0.008, 2.454, 71.0), (0.005, 2.418, 71.0), (0.006, 2.361, 71.5), (-0.003, 2.593, 68.0),
]

# contours
lens_outer_omk = [-0.0281, -0.0255, -0.0239, -0.0206, -0.0165, -0.0128, -0.0090, -0.0050, -0.0010,
                  0.0028, 0.0060, 0.0083, 0.0105, 0.0122, 0.0136, 0.0144, 0.0144, 0.0139, 0.0130,
                  0.0117, 0.0095, 0.0072, 0.0040, 0.0006, -0.0030, -0.0061, -0.0095, -0.0128,
                  -0.0162, -0.0194, -0.0225, -0.0250, -0.0268, -0.0278, -0.0282]
lens_outer_d = [2.493, 2.505, 2.513, 2.521, 2.523, 2.524, 2.522, 2.518, 2.511,
                2.502, 2.491, 2.480, 2.467, 2.453, 2.440, 2.427, 2.413, 2.400, 2.391,
                2.384, 2.380, 2.379, 2.380, 2.382, 2.387, 2.393, 2.400, 2.407,
                2.414, 2.422, 2.432, 2.442, 2.452, 2.462, 2.478]
lens_inner_omk = [-0.0178, -0.0168, -0.0150, -0.0128, -0.0106, -0.0072, -0.0039, -0.0010, 0.0017,
                  0.0042, 0.0061, 0.0073, 0.0078, 0.0077, 0.0072, 0.0065, 0.0056, 0.0042, 0.0028,
                  0.0005, -0.0017, -0.0050, -0.0083, -0.0112, -0.0139, -0.0158, -0.0172]
lens_inner_d = [2.471, 2.484, 2.493, 2.497, 2.499, 2.500, 2.499, 2.497, 2.493,
                2.487, 2.480, 2.467, 2.453, 2.440, 2.427, 2.419, 2.413, 2.411, 2.411,
                2.414, 2.418, 2.423, 2.429, 2.435, 2.442, 2.450, 2.458]
bao_omk = [0.0002, -0.0002]
bao_d = [2.4905, 2.481]
bao_w = [0.0137, 0.0092]
bao_h = [0.215, 0.154]
comb_omk = [0.0000, -0.0005]
comb_d = [2.4495, 2.450]
comb_w = [0.0126, 0.0077]
comb_h = [0.131, 0.078]

# ---------------- build ----------------
FONT = "DejaVu Sans"
groups = [sparse_left, top_edge, lower_edge,
          row_286, mid_2855, row_285, mid_2845, row_284, mid_2835, row_283, mid_2825, row_282,
          mid_2815, row_281, mid_2805, row_280, mid_2795, row_279, mid_2785, row_278, mid_2775,
          row_277, mid_2765, row_276, mid_2755, row_275, mid_2745, row_274, mid_2735, row_273,
          mid_2725, row_272, mid_2715, row_271, mid_2705, row_270, mid_2695, row_269, mid_2685,
          row_268, mid_2675, row_267, mid_2665, row_266, mid_2655, row_265, mid_2645, row_264,
          mid_2635, row_263, mid_2625, row_262, mid_2615, row_261, mid_2605, row_260, mid_2595,
          row_259, mid_2585, row_258, mid_2575, row_257, row_256, right_edge]
omk = [p[0] for g in groups for p in g]
dd = [p[1] for g in groups for p in g]
h0 = [p[2] for g in groups for p in g]


def jet(n=256):
    t = np.linspace(0, 1, n)
    r = np.interp(t, [0, 0.35, 0.66, 0.89, 1], [0, 0, 1, 1, 0.5])
    g = np.interp(t, [0, 0.125, 0.375, 0.64, 0.91, 1], [0, 0, 1, 1, 0, 0])
    b = np.interp(t, [0, 0.11, 0.34, 0.65, 1], [0.5, 1, 1, 0, 0])
    return ["#%02x%02x%02x" % (int(round(255 * a)), int(round(255 * c)), int(round(255 * e)))
            for a, c, e in zip(r, g, b)]


mapper = LinearColorMapper(palette=jet(), low=h0_low, high=h0_high)


def style_axis(ax, ticks, code, size="29px", standoff=24, tick_in=13):
    ax.ticker = FixedTicker(ticks=ticks)
    ax.major_tick_in = tick_in
    ax.major_tick_out = 0
    ax.minor_tick_in = 0
    ax.minor_tick_out = 0
    ax.major_tick_line_width = 2
    ax.major_tick_line_color = "black"
    ax.axis_line_color = None
    ax.formatter = CustomJSTickFormatter(code=code)
    ax.major_label_text_font = FONT
    ax.major_label_text_font_size = size
    ax.major_label_text_color = "black"
    ax.major_label_standoff = standoff


# page layout (pixels): left strip 0..60, main figure 60..840 (frame 208..822 x 8..600),
# x-label strip under main figure, colour bar figure 840..1000 (bar 856..888)
SW = 60
MW, MH = 780, 660
FL, FR, FT, FB = 208, 822, 8, 600

p = figure(width=MW, height=MH, x_range=Range1d(x_lo, x_hi), y_range=Range1d(y_lo, y_hi),
           min_border_left=FL - SW, min_border_right=SW + MW - FR, min_border_top=FT,
           min_border_bottom=MH - FB, toolbar_location=None, output_backend="svg")
p.grid.visible = False
p.outline_line_color = "black"
p.outline_line_width = 3
p.background_fill_color = "white"
p.border_fill_color = "white"


def fx(px):
    return x_lo + (px - FL) * (x_hi - x_lo) / (FR - FL)


def fy(py):
    return y_hi - (py - FT) * (y_hi - y_lo) / (FB - FT)


style_axis(p.xaxis[0], xticks, "return tick.toFixed(2).replace('-', '\u2212');", standoff=23)
style_axis(p.yaxis[0], yticks, "return tick.toFixed(1);", standoff=24)
p.yaxis[0].axis_label = y_label
p.yaxis[0].axis_label_text_font = FONT
p.yaxis[0].axis_label_text_font_size = "33px"
p.yaxis[0].axis_label_text_font_style = "normal"
p.yaxis[0].axis_label_text_color = "black"
p.yaxis[0].axis_label_standoff = 20
top_ax = LinearAxis()
right_ax = LinearAxis()
style_axis(top_ax, xticks, "return '';", size="1px", standoff=0)
style_axis(right_ax, yticks, "return '';", size="1px", standoff=0)
p.add_layout(top_ax, "above")
p.add_layout(right_ax, "right")

src = ColumnDataSource(dict(omk=omk, d=dd, h0=h0))
p.scatter("omk", "d", source=src, size=7.5, fill_color=transform("h0", mapper), line_color=None)

p.line(lens_outer_omk + lens_outer_omk[:1], lens_outer_d + lens_outer_d[:1],
       line_color="black", line_width=3, line_join="round")
p.line(lens_inner_omk + lens_inner_omk[:1], lens_inner_d + lens_inner_d[:1],
       line_color="black", line_width=3, line_join="round")
p.ellipse(x=bao_omk, y=bao_d, width=bao_w, height=bao_h, fill_color=None,
          line_color="#ff0000", line_width=3)
p.ellipse(x=comb_omk[:1], y=comb_d[:1], width=comb_w[:1], height=comb_h[:1],
          fill_color="#52aaee", fill_alpha=0.6, line_color="#4d98e0", line_width=2, line_alpha=0.9)
p.ellipse(x=comb_omk[1:], y=comb_d[1:], width=comb_w[1:], height=comb_h[1:],
          fill_color="#1f74dc", fill_alpha=0.85, line_color="#1f62c4", line_width=2, line_alpha=0.8)

p.add_layout(Span(location=0.0, dimension="height", line_color="#808080", line_width=2,
                  line_dash="23 24", line_dash_offset=42, line_alpha=0.9))

# legend texts (inside the frame)
for i, (txt, col) in enumerate(zip(legend_texts, legend_colors)):
    yy = fy(455 + 48 * i)
    p.add_layout(Label(x=fx(240), y=yy, text="Planck", text_font=FONT, text_font_style="italic",
                       text_font_size="30px", text_color=col, text_baseline="middle"))
    p.add_layout(Label(x=fx(356), y=yy, text=txt, text_font=FONT,
                       text_font_size="32px", text_color=col, text_baseline="middle"))

# x label (Omega_K) as an HTML strip under the main figure
omega_left = 490 - SW
k_left = 515 - SW
xlabel = Div(
    text=('<div style="position:relative;width:%dpx;height:%dpx;">'
          '<span style="position:absolute;left:%dpx;top:17px;font-family:\'DejaVu Sans\';'
          'font-size:31px;line-height:31px;color:black;">Ω</span>'
          '<span style="position:absolute;left:%dpx;top:29px;font-family:\'DejaVu Sans\';'
          'font-size:24px;line-height:24px;font-style:italic;color:black;">K</span></div>')
    % (MW, 713 - MH, omega_left, k_left),
    width=MW, height=713 - MH, margin=(0, 0, 0, 0))

# left strip: stray H0 label reading downwards (right-side axis label of a thin figure)
pl = figure(width=SW, height=713, x_range=Range1d(0, 1), y_range=Range1d(0, 1),
            min_border_left=0, min_border_right=SW - 4, min_border_top=0, min_border_bottom=113,
            x_axis_location=None, y_axis_location="right", toolbar_location=None,
            output_backend="svg")
pl.grid.visible = False
pl.outline_line_color = None
pl.border_fill_color = "white"
pl.background_fill_color = "white"
lax = pl.yaxis[0]
lax.ticker = FixedTicker(ticks=[])
lax.axis_line_color = None
lax.major_tick_in = 0
lax.major_tick_out = 0
lax.minor_tick_in = 0
lax.minor_tick_out = 0
lax.major_label_text_font_size = "1px"
lax.major_label_standoff = 0
lax.axis_label = h0_label
lax.axis_label_text_font = FONT
lax.axis_label_text_font_size = "32px"
lax.axis_label_text_font_style = "italic"
lax.axis_label_text_color = "black"
lax.axis_label_standoff = 10

# colour bar figure
CW = 1000 - SW - MW
CL, CR, CT, CB = 856, 888, 8, 601
X0 = SW + MW
p2 = figure(width=CW, height=713, x_range=Range1d(0, 1), y_range=Range1d(h0_low, h0_high),
            min_border_left=CL - X0, min_border_right=X0 + CW - CR, min_border_top=CT,
            min_border_bottom=713 - CB, x_axis_location=None, y_axis_location="right",
            toolbar_location=None, output_backend="svg")
p2.grid.visible = False
p2.outline_line_color = "black"
p2.outline_line_width = 3
p2.border_fill_color = "white"
grad = np.linspace(h0_low, h0_high, 600).reshape(-1, 1)
p2.image(image=[grad], x=0, y=h0_low, dw=1, dh=h0_high - h0_low, color_mapper=mapper)
style_axis(p2.yaxis[0], cbar_ticks, "return tick.toFixed(0);", standoff=20, tick_in=12)
p2.yaxis[0].axis_label = h0_label
p2.yaxis[0].axis_label_text_font = FONT
p2.yaxis[0].axis_label_text_font_size = "32px"
p2.yaxis[0].axis_label_text_font_style = "italic"
p2.yaxis[0].axis_label_text_color = "black"
p2.yaxis[0].axis_label_standoff = 6

layout = row(pl, column(p, xlabel), p2)
open("out.html", "w").write(file_html(layout, INLINE))
